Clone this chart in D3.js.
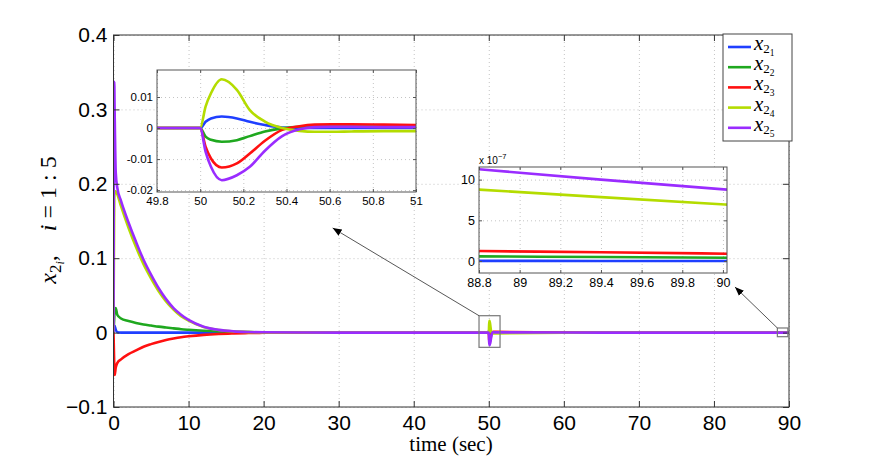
<!DOCTYPE html>
<html>
<head>
<meta charset="utf-8">
<script src="https://cdn.jsdelivr.net/npm/d3@7"></script>
<style>
  body { margin: 0; background: #fff; }
  svg { display: block; }
  .tick text { font-family: "Liberation Sans", Arial, sans-serif; fill: #000; }
</style>
</head>
<body>
<div id="chart"></div>
<script>
// ---- data ----
const seriesIndex = ["1", "2", "3", "4", "5"];
const seriesColors = ["#1f3fff", "#1fa81f", "#ff1010", "#b4dc00", "#9a2cff"];

// main plot, time in seconds
const mainTime = [0, 0.1, 0.15, 0.3, 0.5, 1, 2, 3, 4, 5, 6, 7, 8, 9, 10, 12, 14, 16, 18, 20, 25, 30, 40,
  50, 50.05, 50.1, 50.2, 50.3, 50.4, 50.5, 50.6, 51, 60, 70, 80, 90];
const mainX21 = [0, 0.006, 0.009, 0.004, 0.0005, 0, 0, 0, 0, 0, 0, 0, 0, 0, 0, 0, 0, 0, 0, 0, 0, 0, 0,
  0, 0.0031, 0.0037, 0.0028, 0.0012, 0.0002, 0, 0, 0, 0, 0, 0, 0];
const mainX22 = [0, 0.02, 0.03, 0.033, 0.024, 0.019, 0.0155, 0.013, 0.011, 0.0095, 0.008, 0.0068, 0.0057, 0.0046, 0.0038,
  0.0025, 0.0016, 0.001, 0.0006, 0.0004, 0.0001, 0, 0,
  0, -0.003, -0.0044, -0.0035, -0.0012, 0, 0.0004, 0.0005, 0.0005, 0.0001, 0, 0, 0];
const mainX23 = [0, -0.045, -0.057, -0.047, -0.041, -0.036, -0.029, -0.024, -0.019, -0.0155, -0.0125, -0.01, -0.008, -0.0063, -0.005,
  -0.003, -0.0018, -0.0011, -0.0006, -0.0003, -0.0001, 0, 0,
  0, -0.0095, -0.0127, -0.0105, -0.0045, -0.0005, 0.0008, 0.0012, 0.001, 0.0002, 0, 0, 0];
const mainX24 = [0, 0.18, 0.19, 0.19, 0.186, 0.17, 0.141, 0.115, 0.092, 0.073, 0.056, 0.042, 0.031, 0.022, 0.016,
  0.0075, 0.0034, 0.0016, 0.0007, 0.0003, 0.0001, 0, 0,
  0, 0.0115, 0.0157, 0.01, 0.0022, -0.0003, -0.0011, -0.0011, -0.001, -0.0002, 0, 0, 0];
const mainX25 = [0, 0.337, 0.3, 0.215, 0.195, 0.177, 0.148, 0.122, 0.098, 0.078, 0.06, 0.045, 0.033, 0.024, 0.017,
  0.008, 0.0037, 0.0017, 0.0008, 0.0004, 0.0001, 0, 0,
  0, -0.0125, -0.0168, -0.014, -0.0075, -0.002, 0.0002, 0.0004, 0.0003, 0.0001, 0, 0, 0];
const mainXTicks = [0, 10, 20, 30, 40, 50, 60, 70, 80, 90];
const mainYTicks = [-0.1, 0, 0.1, 0.2, 0.3, 0.4];

// zoom around t = 50
const zoomATime = [49.8, 50, 50.025, 50.05, 50.1, 50.17, 50.23, 50.3, 50.38, 50.46, 50.53, 50.61, 50.7, 50.85, 51];
const zoomAX21 = [0, 0, 0.002, 0.0031, 0.0037, 0.0031, 0.002, 0.001, 0.0002, 0, 0, 0, 0, 0, 0];
const zoomAX22 = [0, 0, -0.0028, -0.0038, -0.0044, -0.0039, -0.0026, -0.0011, -0.0001, 0.0004, 0.0005, 0.0005, 0.0005, 0.0005, 0.0005];
const zoomAX23 = [0, 0, -0.006, -0.0098, -0.0127, -0.0114, -0.0082, -0.0041, -0.0006, 0.0006, 0.0011, 0.0012, 0.0012, 0.0011, 0.001];
const zoomAX24 = [0, 0, 0.0069, 0.0112, 0.0157, 0.0123, 0.0058, 0.0021, 0, -0.0009, -0.0012, -0.0012, -0.0011, -0.001, -0.001];
const zoomAX25 = [0, 0, -0.0076, -0.0125, -0.0168, -0.0152, -0.0125, -0.0073, -0.0026, -0.0004, 0.0003, 0.0004, 0.0004, 0.0003, 0.0003];
const zoomAXTicks = [49.8, 50, 50.2, 50.4, 50.6, 50.8, 51];
const zoomAYTicks = [-0.02, -0.01, 0, 0.01];

// zoom at the end, values in units of 1e-7
const zoomBTime = [88.8, 89.4, 90.02];
const zoomBX21 = [0.02, 0.01, 0];
const zoomBX22 = [0.57, 0.49, 0.41];
const zoomBX23 = [1.23, 1.07, 0.9];
const zoomBX24 = [8.77, 7.85, 6.93];
const zoomBX25 = [11.27, 10.0, 8.77];
const zoomBXTicks = [88.8, 89, 89.2, 89.4, 89.6, 89.8, 90];
const zoomBYTicks = [0, 5, 10];

// ---- drawing ----
const W = 872, H = 468;
const svg = d3.select("#chart").append("svg").attr("width", W).attr("height", H);

const defs = svg.append("defs");
defs.append("marker")
  .attr("id", "head")
  .attr("viewBox", "0 0 10 10")
  .attr("refX", 10).attr("refY", 5)
  .attr("markerWidth", 9).attr("markerHeight", 9)
  .attr("markerUnits", "userSpaceOnUse")
  .attr("orient", "auto")
  .append("path").attr("d", "M0,1 L10,5 L0,9 Z").attr("fill", "#000");

let clipId = 0;

function panel(cfg) {
  const { left, right, top, bottom } = cfg.box;
  const x = d3.scaleLinear().domain(cfg.xDomain).range([left, right]);
  const y = d3.scaleLinear().domain(cfg.yDomain).range([bottom, top]);
  const g = svg.append("g");

  g.append("rect")
    .attr("x", left).attr("y", top)
    .attr("width", right - left).attr("height", bottom - top)
    .attr("fill", "#fff");

  // dotted grid
  g.append("g")
    .attr("transform", `translate(0,${bottom})`)
    .call(d3.axisBottom(x).tickValues(cfg.xTicks).tickSize(-(bottom - top)).tickFormat(""))
    .call(a => a.select(".domain").remove())
    .selectAll("line").attr("stroke", "#c4c4c4").attr("stroke-dasharray", "1,3");
  g.append("g")
    .attr("transform", `translate(${left},0)`)
    .call(d3.axisLeft(y).tickValues(cfg.yTicks).tickSize(-(right - left)).tickFormat(""))
    .call(a => a.select(".domain").remove())
    .selectAll("line").attr("stroke", "#c4c4c4").attr("stroke-dasharray", "1,3");

  const id = "clip" + (clipId++);
  defs.append("clipPath").attr("id", id).append("rect")
    .attr("x", left).attr("y", top)
    .attr("width", right - left).attr("height", bottom - top);

  const line = d3.line()
    .x(d => x(d[0]))
    .y(d => y(d[1]))
    .curve(d3.curveMonotoneX);

  const lines = g.append("g").attr("clip-path", `url(#${id})`);
  cfg.series.forEach((vals, i) => {
    lines.append("path")
      .datum(cfg.time.map((t, k) => [t, vals[k]]))
      .attr("fill", "none")
      .attr("stroke", seriesColors[i])
      .attr("stroke-width", cfg.lineWidth)
      .attr("stroke-linejoin", "round")
      .attr("d", line);
  });

  // inward ticks on all four sides, labels bottom and left
  const tl = cfg.tickLen;
  const bx = g.append("g").attr("transform", `translate(0,${bottom})`)
    .call(d3.axisBottom(x).tickValues(cfg.xTicks).tickSize(-tl).tickPadding(cfg.xPad).tickFormat(cfg.xFormat));
  const ly = g.append("g").attr("transform", `translate(${left},0)`)
    .call(d3.axisLeft(y).tickValues(cfg.yTicks).tickSize(-tl).tickPadding(cfg.yPad).tickFormat(cfg.yFormat));
  const tx = g.append("g").attr("transform", `translate(0,${top})`)
    .call(d3.axisTop(x).tickValues(cfg.xTicks).tickSize(-tl).tickFormat(""));
  const ry = g.append("g").attr("transform", `translate(${right},0)`)
    .call(d3.axisRight(y).tickValues(cfg.yTicks).tickSize(-tl).tickFormat(""));
  [bx, ly, tx, ry].forEach(a => {
    a.select(".domain").remove();
    a.selectAll("line").attr("stroke", cfg.frameColor);
    a.selectAll("text").style("font-size", cfg.fontSize + "px");
  });

  g.append("rect")
    .attr("x", left).attr("y", top)
    .attr("width", right - left).attr("height", bottom - top)
    .attr("fill", "none").attr("stroke", cfg.frameColor).attr("stroke-width", 1);

  return { x, y, g };
}

const minus = d3.format("");

// main axes
const main = panel({
  box: { left: 113.5, right: 789, top: 35, bottom: 407 },
  xDomain: [0, 90], yDomain: [-0.1, 0.4],
  xTicks: mainXTicks, yTicks: mainYTicks,
  xFormat: d3.format("d"), yFormat: d => minus(d),
  time: mainTime,
  series: [mainX21, mainX22, mainX23, mainX24, mainX25],
  lineWidth: 2.6, tickLen: 6, xPad: 8, yPad: 6,
  fontSize: 21, frameColor: "#333"
});

// zoom boxes on the main axes
const zoomBoxes = [
  { t0: 48.7, t1: 51.5, y0: -0.0198, y1: 0.0227, to: [29.2, 0.1406] },
  { t0: 88.45, t1: 89.85, y0: -0.0055, y1: 0.0062, to: [82.8, 0.0613] }
];
zoomBoxes.forEach(b => {
  main.g.append("rect")
    .attr("x", main.x(b.t0)).attr("y", main.y(b.y1))
    .attr("width", main.x(b.t1) - main.x(b.t0))
    .attr("height", main.y(b.y0) - main.y(b.y1))
    .attr("fill", "none").attr("stroke", "#777").attr("stroke-width", 1.2);
  main.g.append("line")
    .attr("x1", main.x(b.t0)).attr("y1", main.y(b.y1))
    .attr("x2", main.x(b.to[0])).attr("y2", main.y(b.to[1]))
    .attr("stroke", "#444").attr("stroke-width", 0.9)
    .attr("marker-end", "url(#head)");
});

// inset around t = 50
panel({
  box: { left: 157, right: 416, top: 70, bottom: 192 },
  xDomain: [49.8, 51], yDomain: [-0.0206, 0.0187],
  xTicks: zoomAXTicks, yTicks: zoomAYTicks,
  xFormat: d => d3.format("")(d), yFormat: d => d3.format("")(d).replace("−", "-"),
  time: zoomATime,
  series: [zoomAX21, zoomAX22, zoomAX23, zoomAX24, zoomAX25],
  lineWidth: 2.6, tickLen: 3, xPad: 5, yPad: 4,
  fontSize: 11.5, frameColor: "#555"
});

// inset at the end
const insB = panel({
  box: { left: 479, right: 727, top: 167, bottom: 273 },
  xDomain: [88.8, 90.02], yDomain: [-1.47, 11.55],
  xTicks: zoomBXTicks, yTicks: zoomBYTicks,
  xFormat: d => d3.format("")(d), yFormat: d => d3.format("")(d),
  time: zoomBTime,
  series: [zoomBX21, zoomBX22, zoomBX23, zoomBX24, zoomBX25],
  lineWidth: 2.6, tickLen: 3, xPad: 5, yPad: 4,
  fontSize: 12.5, frameColor: "#555"
});
const expo = insB.g.append("text")
  .attr("x", 479).attr("y", 164)
  .style("font-family", "Liberation Sans, Arial, sans-serif")
  .style("font-size", "10px");
expo.append("tspan").text("x 10");
expo.append("tspan").attr("dy", -5).style("font-size", "7.5px").text("−7");

// legend
const serif = "Liberation Serif, 'DejaVu Serif', serif";
const legend = svg.append("g");
legend.append("rect")
  .attr("x", 723).attr("y", 34).attr("width", 69).attr("height", 107)
  .attr("fill", "#fff").attr("stroke", "#444").attr("stroke-width", 1);
seriesIndex.forEach((s, i) => {
  const cy = 46 + i * 20.2;
  legend.append("line")
    .attr("x1", 728).attr("x2", 751).attr("y1", cy + 1).attr("y2", cy + 1)
    .attr("stroke", seriesColors[i]).attr("stroke-width", 2.6);
  const t = legend.append("text")
    .attr("x", 754).attr("y", cy + 4)
    .style("font-family", serif);
  t.append("tspan").style("font-style", "italic").style("font-size", "21px").text("x");
  t.append("tspan").attr("dy", 3).style("font-size", "13px").text("2");
  t.append("tspan").attr("dy", 3).style("font-size", "9.5px").text(s);
});

// axis titles
svg.append("text")
  .attr("x", 451).attr("y", 451)
  .attr("text-anchor", "middle")
  .style("font-family", serif).style("font-size", "21px")
  .text("time (sec)");

const yl = svg.append("text")
  .attr("transform", "translate(56,220) rotate(-90)")
  .attr("text-anchor", "middle")
  .style("font-family", serif).style("font-size", "24px");
yl.append("tspan").style("font-style", "italic").text("x");
yl.append("tspan").attr("dy", 5).style("font-size", "17px").text("2");
yl.append("tspan").attr("dy", 3).style("font-size", "12px").style("font-style", "italic").text("i");
yl.append("tspan").attr("dy", -8).text(",\u2003");
yl.append("tspan").style("font-style", "italic").text("i");
yl.append("tspan").text("\u2005=\u20051\u2005:\u20055");
</script>
</body>
</html>
